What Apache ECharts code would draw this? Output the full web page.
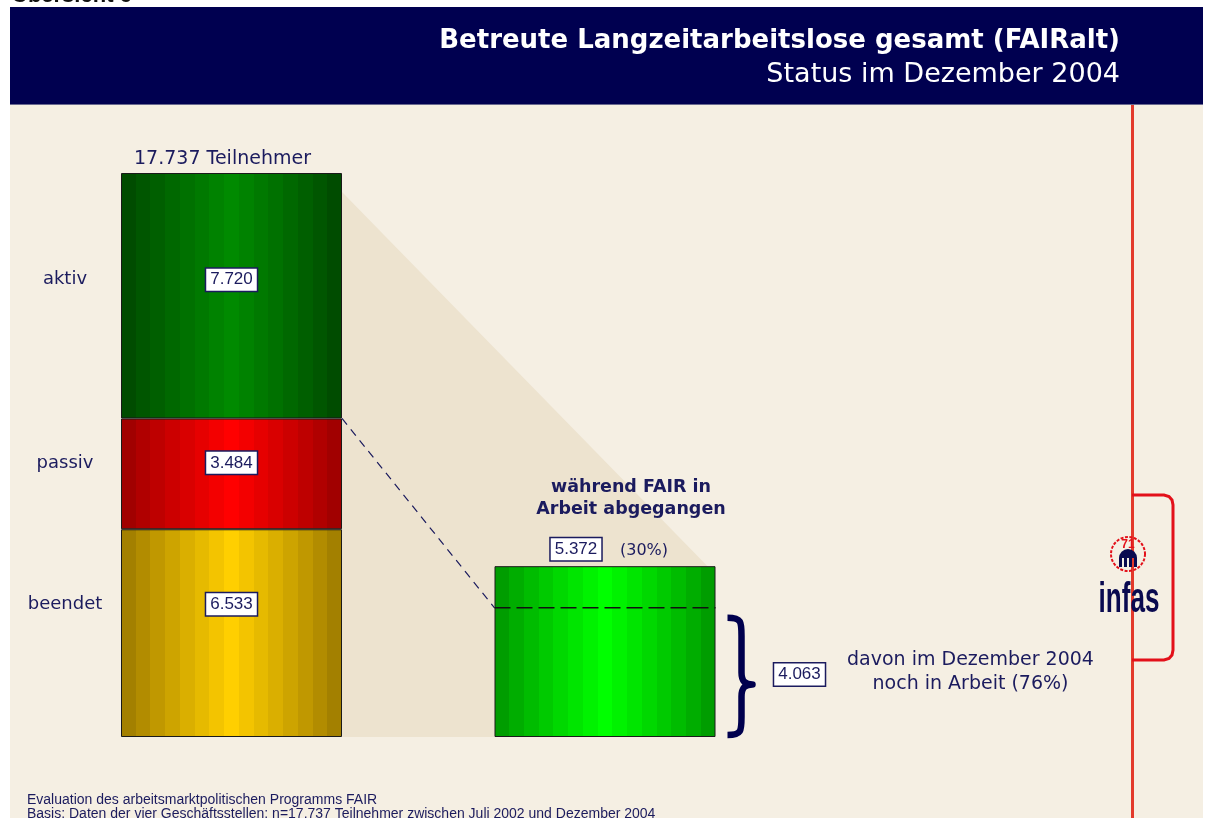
<!DOCTYPE html>
<html>
<head>
<meta charset="utf-8">
<script src="https://cdn.jsdelivr.net/npm/echarts@6/dist/echarts.min.js"></script>
<style>
  html, body { margin: 0; padding: 0; background: #ffffff; }
  #main { width: 1208px; height: 818px; }
</style>
</head>
<body>
<div id="main"></div>
<script>
// Daten
var categories = ['Teilnehmer', 'während FAIR in Arbeit abgegangen'];
var statusNames = ['aktiv', 'passiv', 'beendet'];
var statusValues = [7720, 3484, 6533];
var totalValue = 17737;
var abgegangenValue = 5372;
var abgegangenPct = 30;
var inArbeitValue = 4063;
var inArbeitPct = 76;

var NAVY = '#1b1b5e';
var FONT = '"DejaVu Sans", "Liberation Sans", sans-serif';
var FONT2 = '"Liberation Sans", Arial, sans-serif';
var BAR_W = 221;
var labelShift = [-16, -11, -29];

function fmt(v) {
    return String(v).replace(/\B(?=(\d{3})+(?!\d))/g, '.');
}

function hex(c) {
    return [parseInt(c.substr(1, 2), 16), parseInt(c.substr(3, 2), 16), parseInt(c.substr(5, 2), 16)];
}
// gestreifter Verlauf: dunkel am Rand, hell in der Mitte
function bands(edge, center, n) {
    var a = hex(edge), b = hex(center), stops = [];
    for (var i = 0; i < n; i++) {
        var t = 1 - Math.abs((i + 0.5) / n * 2 - 1);
        t = Math.pow(t, 0.9);
        var c = 'rgb(' + [0, 1, 2].map(function (k) {
            return Math.round(a[k] + (b[k] - a[k]) * t);
        }).join(',') + ')';
        stops.push({ offset: i / n, color: c }, { offset: (i + 1) / n, color: c });
    }
    return { type: 'linear', x: 0, y: 0, x2: 1, y2: 0, colorStops: stops };
}

var statusColors = [
    bands('#004600', '#008a00', 15),
    bands('#980000', '#ff0000', 15),
    bands('#9a7800', '#ffcf00', 15)
];

var boxLabel = {
    show: true,
    position: 'inside',
    color: NAVY,
    fontFamily: FONT2,
    fontSize: 17,
    backgroundColor: '#ffffff',
    borderColor: NAVY,
    borderWidth: 1.5,
    padding: [3, 4, 2, 4],
    formatter: function (p) { return fmt(p.value); }
};

var series = [];
// Schatten zwischen den Säulen
series.push({
    type: 'custom',
    z: 1,
    silent: true,
    data: [[0]],
    renderItem: function (params, api) {
        var top = api.coord([0, totalValue]);
        var rTop = api.coord([1, abgegangenValue]);
        var base = api.coord([1, 0]);
        var lr = top[0] + BAR_W / 2, rr = rTop[0] + BAR_W / 2;
        return {
            type: 'polygon',
            shape: { points: [[lr, top[1] + 19], [rr - 8, rTop[1]], [rr, base[1]], [lr, base[1]]] },
            style: { fill: '#ede3cf' }
        };
    }
});
// gestapelte Säule links (von unten: beendet, passiv, aktiv)
for (var i = statusNames.length - 1; i >= 0; i--) {
    series.push({
        name: statusNames[i],
        type: 'bar',
        stack: 'a',
        barWidth: BAR_W,
        z: 2,
        itemStyle: { color: statusColors[i], borderColor: '#1a1a1a', borderWidth: 1 },
        label: Object.assign({}, boxLabel, { offset: [0, labelShift[i]] }),
        data: [statusValues[i], '-']
    });
}
// Säule rechts
series.push({
    name: 'abgegangen',
    type: 'bar',
    stack: 'a',
    barWidth: BAR_W,
    z: 2,
    itemStyle: { color: bands('#009400', '#00ff00', 15), borderColor: '#1a1a1a', borderWidth: 1 },
    data: ['-', abgegangenValue]
});
// Beschriftungen, Linien, Klammer
series.push({
    type: 'custom',
    z: 5,
    silent: true,
    data: [[0]],
    renderItem: function (params, api) {
        var children = [];
        var lTop = api.coord([0, totalValue]);
        var lx = lTop[0];
        var rTop = api.coord([1, abgegangenValue]);
        var rx = rTop[0];
        var base = api.coord([1, 0]);
        var dashY = api.coord([1, inArbeitValue])[1];
        var splitY = api.coord([0, statusValues[1] + statusValues[2]])[1];

        children.push({
            type: 'text', x: lx - 9, y: lTop[1] - 14,
            style: { text: fmt(totalValue) + ' ' + categories[0], fill: NAVY, font: '19px ' + FONT, align: 'center', verticalAlign: 'middle' }
        });
        // Namen links
        var cum = 0;
        for (var i = statusNames.length - 1; i >= 0; i--) {
            var mid = api.coord([0, cum + statusValues[i] / 2])[1];
            cum += statusValues[i];
            children.push({
                type: 'text', x: lx - BAR_W / 2 - 56, y: mid + labelShift[i],
                style: { text: statusNames[i], fill: NAVY, font: '18px ' + FONT, align: 'center', verticalAlign: 'middle' }
            });
        }
        // gestrichelte Verbindung
        children.push({
            type: 'line',
            shape: { x1: lx + BAR_W / 2, y1: splitY, x2: rx - BAR_W / 2, y2: dashY },
            style: { stroke: NAVY, lineWidth: 1.2, lineDash: [8, 6] }
        });
        children.push({
            type: 'line',
            shape: { x1: rx - BAR_W / 2, y1: dashY, x2: rx + BAR_W / 2, y2: dashY },
            style: { stroke: '#111', lineWidth: 1.6, lineDash: [16, 6] }
        });
        // Text über rechter Säule
        children.push({
            type: 'text', x: rx + 26, y: rTop[1] - 68,
            style: { text: 'während FAIR in\nArbeit abgegangen', fill: NAVY, font: 'bold 17.5px ' + FONT, align: 'center', verticalAlign: 'middle', lineHeight: 22 }
        });
        children.push({
            type: 'text', x: rx - 29, y: rTop[1] - 17,
            style: { text: fmt(abgegangenValue), fill: NAVY, font: '17px ' + FONT2, align: 'center', verticalAlign: 'middle',
                backgroundColor: '#fff', borderColor: NAVY, borderWidth: 1.5, padding: [3, 4, 2, 4] }
        });
        children.push({
            type: 'text', x: rx + 39, y: rTop[1] - 15,
            style: { text: '(' + abgegangenPct + '%)', fill: NAVY, font: '16px ' + FONT, align: 'center', verticalAlign: 'middle' }
        });
        // geschweifte Klammer
        var bx = rx + BAR_W / 2 + 12;
        var y0 = dashY + 10, y1 = base[1] - 2, ym = (y0 + y1) / 2 + 8;
        children.push({
            type: 'path',
            shape: {
                pathData: 'M' + bx + ',' + y0 +
                    ' C' + (bx + 14) + ',' + y0 + ' ' + (bx + 14) + ',' + (y0 + 4) + ' ' + (bx + 14) + ',' + (y0 + 18) +
                    ' L' + (bx + 14) + ',' + (ym - 12) +
                    ' C' + (bx + 14) + ',' + (ym - 3) + ' ' + (bx + 18) + ',' + ym + ' ' + (bx + 25) + ',' + ym +
                    ' C' + (bx + 18) + ',' + ym + ' ' + (bx + 14) + ',' + (ym + 3) + ' ' + (bx + 14) + ',' + (ym + 12) +
                    ' L' + (bx + 14) + ',' + (y1 - 18) +
                    ' C' + (bx + 14) + ',' + (y1 - 4) + ' ' + (bx + 14) + ',' + y1 + ' ' + bx + ',' + y1
            },
            style: { stroke: '#00004e', lineWidth: 6.5, fill: null, lineJoin: 'round' }
        });
        children.push({
            type: 'text', x: bx + 72, y: ym - 10,
            style: { text: fmt(inArbeitValue), fill: NAVY, font: '17px ' + FONT2, align: 'center', verticalAlign: 'middle',
                backgroundColor: '#fff', borderColor: NAVY, borderWidth: 1.5, padding: [3, 4, 2, 4] }
        });
        children.push({
            type: 'text', x: bx + 243, y: ym - 12,
            style: { text: 'davon im Dezember 2004\nnoch in Arbeit (' + inArbeitPct + '%)', fill: NAVY, font: '19px ' + FONT,
                align: 'center', verticalAlign: 'middle', lineHeight: 24 }
        });
        return { type: 'group', children: children };
    }
});

var myChart = echarts.init(document.getElementById('main'));
myChart.setOption({
    animation: false,
    grid: { left: 44.75, right: 416.25, top: 173, bottom: 81 },
    xAxis: { type: 'category', data: categories, show: false },
    yAxis: { type: 'value', min: 0, max: totalValue, show: false },
    graphic: [
        { type: 'rect', z: -10, shape: { x: 10, y: 105, width: 1193, height: 713 }, style: { fill: '#f5efe3' } },
        { type: 'rect', z: -10, shape: { x: 10, y: 7, width: 1193, height: 98 }, style: { fill: '#000050' } },
        { type: 'rect', z: -9, shape: { x: 10, y: 104, width: 1193, height: 1 }, style: { fill: '#6a6a90' } },
        { type: 'text', x: 12, y: 7, style: { text: 'Übersicht 6', fill: '#111', font: 'bold 22px ' + FONT2, verticalAlign: 'bottom' } },
        { type: 'text', x: 1120, y: 41, style: { text: 'Betreute Langzeitarbeitslose gesamt (FAIRalt)', fill: '#fff', font: 'bold 26px ' + FONT, align: 'right', verticalAlign: 'middle' } },
        { type: 'text', x: 1120, y: 75, style: { text: 'Status im Dezember 2004', fill: '#fff', font: '27px ' + FONT, align: 'right', verticalAlign: 'middle' } },
        // rote Linie mit Klammer
        { type: 'rect', shape: { x: 1131, y: 105, width: 3, height: 713 }, style: { fill: '#e33a2c' } },
        { type: 'polyline', shape: { points: [[1132, 495], [1164, 495], [1169, 496.5], [1172, 500], [1173, 505], [1173, 650], [1172, 655], [1169, 658.5], [1164, 660], [1132, 660]] },
          style: { stroke: '#e3101a', lineWidth: 3, fill: null } },
        // Logo
        { type: 'circle', shape: { cx: 1128, cy: 554, r: 17 }, style: { stroke: '#e3101a', lineWidth: 2, lineDash: [3, 1.5], fill: null } },
        { type: 'text', x: 1128, y: 545, style: { text: '71', fill: '#e3101a', font: 'bold 12px ' + FONT2, align: 'center', verticalAlign: 'middle' } },
        { type: 'sector', shape: { cx: 1128, cy: 558, r: 9, r0: 0, startAngle: Math.PI, endAngle: Math.PI * 2 }, style: { fill: '#0a0a50' } },
        { type: 'rect', shape: { x: 1119, y: 558, width: 3, height: 9 }, style: { fill: '#0a0a50' } },
        { type: 'rect', shape: { x: 1124, y: 558, width: 3, height: 9 }, style: { fill: '#0a0a50' } },
        { type: 'rect', shape: { x: 1129, y: 558, width: 3, height: 9 }, style: { fill: '#0a0a50' } },
        { type: 'rect', shape: { x: 1134, y: 558, width: 3, height: 9 }, style: { fill: '#0a0a50' } },
        { type: 'text', x: 1129, y: 600, scaleX: 0.62, style: { text: 'infas', fill: '#0a0a50', font: 'bold 42px "Liberation Sans Narrow", ' + FONT2, align: 'center', verticalAlign: 'middle' } },
        // Fußnote
        { type: 'text', x: 27, y: 800, style: { text: 'Evaluation des arbeitsmarktpolitischen Programms FAIR', fill: NAVY, font: '14px "Liberation Sans Narrow", ' + FONT2, verticalAlign: 'middle' } },
        { type: 'text', x: 27, y: 814, style: { text: 'Basis: Daten der vier Geschäftsstellen; n=' + fmt(totalValue) + ' Teilnehmer zwischen Juli 2002 und Dezember 2004', fill: NAVY, font: '14px "Liberation Sans Narrow", ' + FONT2, verticalAlign: 'middle' } }
    ],
    series: series
});
</script>
</body>
</html>
